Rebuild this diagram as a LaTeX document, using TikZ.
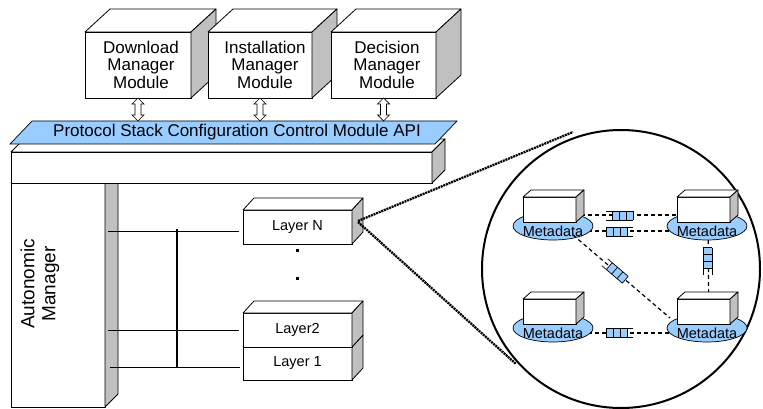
\documentclass[tikz,border=0pt]{standalone}
\usepackage{fontspec}
\setmainfont{Liberation Sans}
\usetikzlibrary{calc,shapes.geometric}
\definecolor{sidegray}{HTML}{C0C0C0}
\definecolor{qblue}{HTML}{99CCFF}
\newcommand\cubfaces[3]{%
  \filldraw[topf] (#1.north west) -- ++(#2,#3) -- ($(#1.north east)+(#2,#3)$) -- (#1.north east) -- cycle;
  \filldraw[sidef] (#1.north east) -- ++(#2,#3) -- ($(#1.south east)+(#2,#3)$) -- (#1.south east) -- cycle;}
\newcommand\dblarr[2]{%
  \filldraw[arrowf] let \p1=(#1), \p2=(#2) in
   (\x1,\y1) -- (\x1+6pt,\y1-6pt) -- (\x1+3pt,\y1-6pt) -- (\x1+3pt,\y2+6pt) -- (\x1+6pt,\y2+6pt)
   -- (\x1,\y2) -- (\x1-6pt,\y2+6pt) -- (\x1-3pt,\y2+6pt) -- (\x1-3pt,\y1-6pt) -- (\x1-6pt,\y1-6pt) -- cycle;}
\newcommand\metanode[3]{%
  \node[mell] (#1) at (#2,#3) {};
  \node[front, minimum width=53pt, minimum height=25pt] (#1b) at ($(#1)+(-3.5,-16.5)$) {};
  \cubfaces{#1b}{8}{-7}
  \node[mtext, anchor=base] (#1t) at ($(#1)+(0,10)$) {Metadata};}
\tikzset{
  front/.style={draw, fill=white, inner sep=0pt, outer sep=0pt, line width=0.8pt},
  topf/.style={draw, fill=white, line width=0.8pt, line join=round},
  sidef/.style={draw, fill=sidegray, line width=0.8pt, line join=round},
  arrowf/.style={draw, fill=white, line width=0.7pt},
  banner/.style={draw, fill=qblue, line width=0.7pt},
  bigtext/.style={font=\fontsize{17}{17}\selectfont, align=center},
  laytext/.style={font=\fontsize{14.5}{14.5}\selectfont},
  mtext/.style={font=\fontsize{14.5}{14.5}\selectfont, inner sep=0pt},
  mell/.style={ellipse, draw, fill=qblue, line width=0.7pt, minimum width=80pt, minimum height=28pt, inner sep=0pt},
  busline/.style={line width=0.8pt},
  dotline/.style={line width=2.3pt, dash pattern=on 2pt off 0.8pt},
  qline/.style={line width=1.2pt, dash pattern=on 4pt off 3pt},
  qedge/.style={line width=0.7pt},
  dotsq/.style={fill=black, inner sep=0pt, minimum size=3pt},
  queueR/.pic={
    \fill[qblue] (-7.5,-4.5) rectangle (13.5,4.5);
    \draw[qedge] (-13.5,-4.5) -- (13.5,-4.5) (-13.5,4.5) -- (13.5,4.5)
      (-7.5,-4.5) -- (-7.5,4.5) (-0.5,-4.5) -- (-0.5,4.5) (6.5,-4.5) -- (6.5,4.5) (13.5,-4.5) -- (13.5,4.5);
  },
  queueL/.pic={
    \fill[qblue] (-13.5,-4.5) rectangle (7.5,4.5);
    \draw[qedge] (-13.5,-4.5) -- (13.5,-4.5) (-13.5,4.5) -- (13.5,4.5)
      (-13.5,-4.5) -- (-13.5,4.5) (-6.5,-4.5) -- (-6.5,4.5) (0.5,-4.5) -- (0.5,4.5) (7.5,-4.5) -- (7.5,4.5);
  }
}
\begin{document}
\begin{tikzpicture}[x=1pt,y=-1pt]
\useasboundingbox[fill=white] (0,0) rectangle (763,409);

% top modules
\node[front, minimum width=106pt, minimum height=66pt] (dl) at (138,65) {};
\cubfaces{dl}{25}{-23}
\node[bigtext] (dlt) at (141,65) {Download\\[0pt]Manager\\[1pt]Module};
\node[front, minimum width=104pt, minimum height=66pt] (il) at (260,65) {};
\cubfaces{il}{25}{-23}
\node[bigtext] (ilt) at (265,64.5) {Installation\\[0pt]Manager\\[1pt]Module};
\node[front, minimum width=105pt, minimum height=66pt] (dm) at (383.5,65) {};
\cubfaces{dm}{25}{-23}
\node[bigtext] (dmt) at (387,64.5) {Decision\\[0pt]Manager\\[1pt]Module};

% autonomic manager column
\node[front, minimum width=94pt, minimum height=224pt] (am) at (58,295) {};
\cubfaces{am}{13}{-13}
\node[rotate=90, font=\fontsize{19}{21}\selectfont, align=center] (amt) at (40,284) {Autonomic\\Manager};

% configuration bar
\node[front, minimum width=421pt, minimum height=31pt] (bar) at (221.5,167.5) {};
\cubfaces{bar}{13}{-13}
\filldraw[banner] (10,144) -- (32,121) -- (457,121) -- (435,144) -- cycle;
\node[bigtext] (api) at (237,132) {Protocol Stack Configuration Control Module API};
\coordinate (bantop) at (0,121);

% double arrows
\dblarr{dl.south}{dl.south |- bantop}
\dblarr{il.south}{il.south |- bantop}
\dblarr{dm.south}{dm.south |- bantop}

% layers
\node[front, minimum width=109pt, minimum height=33pt, laytext] (l1) at (297.5,363.5) {Layer 1};
\cubfaces{l1}{11}{-12}
\node[front, minimum width=109pt, minimum height=34pt, laytext] (l2) at (297.5,330) {Layer2};
\cubfaces{l2}{11}{-12}
\node[front, minimum width=109pt, minimum height=34pt, laytext] (lN) at (297.5,227) {Layer N};
\cubfaces{lN}{11}{-12}
\node[dotsq] (d1) at (297.5,250.5) {};
\node[dotsq] (d2) at (297.5,278.5) {};

% bus
\coordinate (busT) at (177,229);
\coordinate (busB) at (177,367);
\draw[busline] ($(am.east |- lN.west)+(3,4)$) -- ($(lN.west)+(-4,4)$);
\draw[busline] ($(am.east |- l2.west)+(3,0)$) -- ($(l2.west)+(-4,0)$);
\draw[busline] ($(am.east |- l1.west)+(5,3.5)$) -- ($(l1.west)+(-3,3.5)$);
\draw[line width=2pt] (busT) -- (busB);

% zoom circle
\node[circle, draw, line width=2pt, minimum size=278pt, inner sep=0pt] (zc) at (621,269) {};
\draw[dotline] ($(lN.east)+(6,-6)$) -- ($(zc.center)+(-48,-137)$);
\draw[dotline] ($(lN.east)+(6,-5)$) -- ($(zc.center)+(-105,95)$);

% metadata links (under nodes)
\draw[qline] (553,215) -- (707,215);
\draw[qline] (553,231) -- (707,231);
\draw[qline] (553,333) -- (707,333);
\draw[qline] (708,226) -- (709,328);

\metanode{ma}{553}{226}
\draw[qline] ($(ma)+(20,9)$) -- (670,318);
\metanode{mb}{707}{226}
\metanode{mc}{553}{328}
\metanode{md}{707}{328}

% queues
\pic at (619.5,215.5) {queueR};
\pic at (619.5,231.5) {queueL};
\pic at (619.5,333) {queueL};
\pic[rotate=-90] at (707.5,261) {queueL};
\pic[rotate=-40.5] at (615,271) {queueR};
\end{tikzpicture}
\end{document}
